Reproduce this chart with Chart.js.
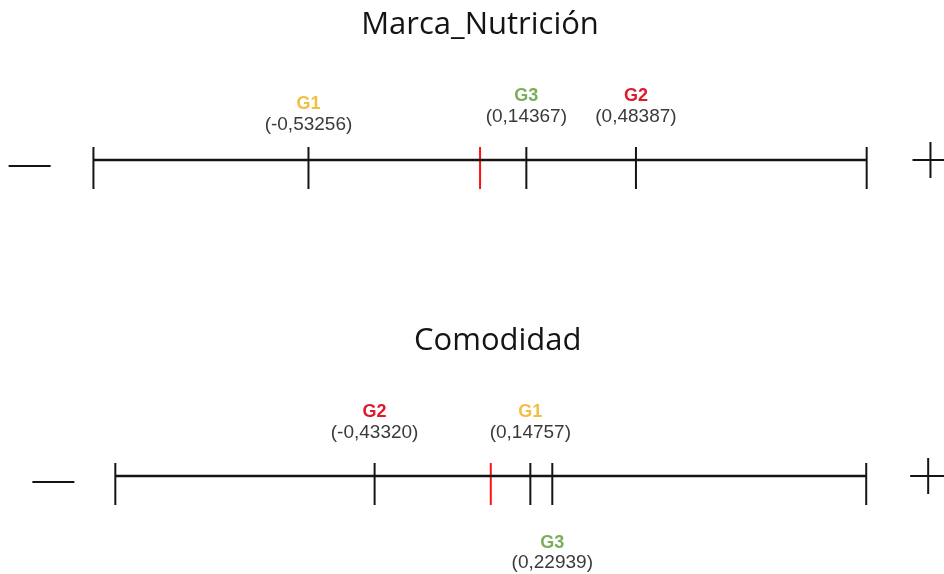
<!DOCTYPE html>
<html lang="es">
  <head>
    <meta charset="UTF-8">
    <title>Marca_Nutrición / Comodidad</title>
    <script src="https://cdn.jsdelivr.net/npm/chart.js"></script>
    <style>
      body { margin: 0; background: #fff; }
      .panel { position: absolute; left: 0; width: 944px; height: 287px; }
      #panel-top { top: 0; }
      #panel-bottom { top: 287px; }
    </style>
  </head>
  <body>
    <div class="panel" id="panel-top"><canvas id="chartMarca" width="944" height="287"></canvas></div>
    <div class="panel" id="panel-bottom"><canvas id="chartComodidad" width="944" height="287"></canvas></div>
    <script>
      // data
      var grupos = ["G1", "G2", "G3"];
      var marcaNutricion = [-0.53256, 0.48387, 0.14367];
      var comodidad = [0.14757, -0.43320, 0.22939];
      var titulos = ["Marca_Nutrición", "Comodidad"];

      // styles
      var coloresGrupo = { G1: "#f2bf45", G2: "#dc1a2c", G3: "#7aae5c" };
      var INK = "#141414";
      var DROP = -8;   // ticks hang a bit below the line

      function fmt(v) {
        return "(" + v.toFixed(5).replace(".", ",") + ")";
      }

      var etiquetas = {
        id: "etiquetas",
        afterDraw: function (chart, args, opts) {
          var ctx = chart.ctx;
          var xs = chart.scales.x, ys = chart.scales.y;
          ctx.save();
          ctx.textAlign = "center";
          ctx.textBaseline = "alphabetic";
          ctx.fillStyle = INK;
          ctx.font = "31px 'Open Sans'";
          ctx.fillText(opts.titulo, xs.getPixelForValue(0) + opts.tituloDx, ys.getPixelForValue(126));
          ctx.textBaseline = "middle";
          opts.valores.forEach(function (v, i) {
            var g = grupos[i];
            var x = xs.getPixelForValue(v);
            var abajo = opts.abajo.indexOf(g) >= 0;
            var dy = opts.bajar[g] || 0;
            ctx.font = "bold 18px 'Liberation Sans'";
            ctx.fillStyle = coloresGrupo[g];
            ctx.fillText(g, x, ys.getPixelForValue((abajo ? -67 : 64) - dy));
            ctx.font = "19px 'Liberation Sans'";
            ctx.fillStyle = "#3a3a3a";
            ctx.fillText(fmt(v), x, ys.getPixelForValue((abajo ? -87 : 43) - dy));
          });
          ctx.restore();
        }
      };

      function tickSet(points, color) {
        return {
          type: "scatter",
          data: points,
          pointStyle: "line",
          rotation: 90,
          radius: 21,
          borderWidth: 2,
          borderColor: color,
          backgroundColor: color
        };
      }

      function numberLine(id, valores, titulo, extremo, xmin, xmax, lineY, abajo, tituloDx, bajar) {
        var signo = extremo * 1.165;
        new Chart(id, {
          type: "scatter",
          data: {
            datasets: [
              {
                type: "line",
                data: [{ x: -extremo, y: 0 }, { x: extremo, y: 0 }],
                borderColor: INK,
                borderWidth: 2.5,
                pointRadius: 0
              },
              tickSet([{ x: -extremo, y: DROP }, { x: extremo, y: DROP }], INK),
              tickSet(valores.map(function (v) { return { x: v, y: DROP }; }), INK),
              tickSet([{ x: 0, y: DROP }], "#ff1010"),
              {
                data: [{ x: -signo, y: -6 }],
                pointStyle: "line",
                rotation: 0,
                radius: 21,
                borderWidth: 2,
                borderColor: INK
              },
              {
                data: [{ x: signo, y: 0 }],
                pointStyle: "cross",
                rotation: 0,
                radius: 18,
                borderWidth: 2,
                borderColor: INK
              }
            ]
          },
          options: {
            responsive: false,
            animation: false,
            devicePixelRatio: 1,
            layout: { padding: 0, autoPadding: false },
            scales: {
              x: { type: "linear", min: xmin, max: xmax, display: false },
              y: { type: "linear", min: -(287 - lineY), max: lineY, display: false }
            },
            plugins: {
              legend: { display: false },
              tooltip: { enabled: false },
              etiquetas: { titulo: titulo, valores: valores, abajo: abajo, tituloDx: tituloDx, bajar: bajar }
            }
          },
          plugins: [etiquetas]
        });
      }

      numberLine("chartMarca", marcaNutricion, titulos[0], 1.2, -1.49, 1.44, 160, [], 0, { G1: 8 });
      numberLine("chartComodidad", comodidad, titulos[1], 1.4, -1.83, 1.69, 189, ["G3"], 7, {});
    </script>
  </body>
</html>
